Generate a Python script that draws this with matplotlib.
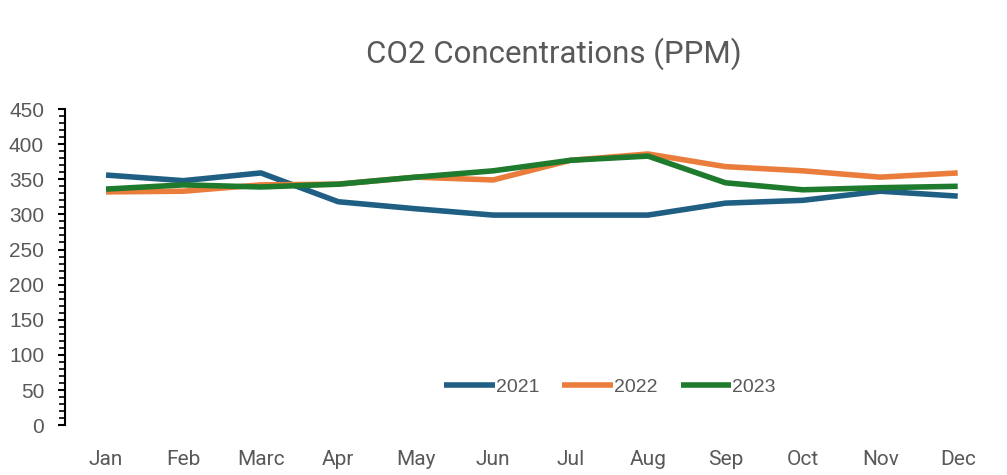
import matplotlib
matplotlib.use("Agg")
import matplotlib.pyplot as plt
from matplotlib.ticker import MultipleLocator

months = ["Jan", "Feb", "Marc", "Apr", "May", "Jun", "Jul", "Aug", "Sep", "Oct", "Nov", "Dec"]
y2021 = [356, 348, 359, 318, 308, 299, 299, 299, 316, 320, 333, 326]
y2022 = [332, 333, 342, 343, 353, 349, 377, 386, 368, 362, 353, 359]
y2023 = [336, 342, 339, 343, 353, 362, 377, 383, 345, 335, 338, 340]
series = [("2021", y2021, "#1f5f84"), ("2022", y2022, "#ea7d3c"), ("2023", y2023, "#1e7a2c")]

grey = "#595959"
narrow = ["Roboto", "DejaVu Sans"]
sans = ["Liberation Sans", "DejaVu Sans"]

fig = plt.figure(figsize=(10.07, 4.75), dpi=100)
ax = fig.add_axes([0.0645, 0.105, 0.925, 0.6655])

x = list(range(len(months)))
for name, vals, col in series:
    ax.plot(x, vals, color=col, lw=4.0, label=name, solid_capstyle="butt")

ax.set_xlim(-0.53, 11.5)
ax.set_ylim(0, 450)
ax.yaxis.set_major_locator(MultipleLocator(50))
ax.yaxis.set_minor_locator(MultipleLocator(10))
ax.set_xticks(x)
ax.set_xticklabels(months, fontfamily=narrow, fontsize=15, color=grey)
for s in ["top", "right", "bottom"]:
    ax.spines[s].set_visible(False)
ax.spines["left"].set_linewidth(1.5)
ax.tick_params(axis="x", length=0, pad=18)
ax.tick_params(axis="y", which="major", length=5, width=1.5, pad=10, labelsize=15, labelcolor=grey)
ax.tick_params(axis="y", which="minor", length=4, width=1.2)
for lbl in ax.get_yticklabels():
    lbl.set_fontfamily(sans)

fig.text(0.55, 0.887, "CO2 Concentrations (PPM)", ha="center", va="center",
         fontsize=22.5, color=grey, fontfamily=narrow)

leg = ax.legend(loc="center", bbox_to_anchor=(0.585, 0.12), ncol=3, frameon=False,
                handlelength=2.6, handletextpad=0.05, columnspacing=1.2,
                prop={"family": sans, "size": 14})
for t in leg.get_texts():
    t.set_color(grey)

fig.savefig("out.png", dpi=100)
